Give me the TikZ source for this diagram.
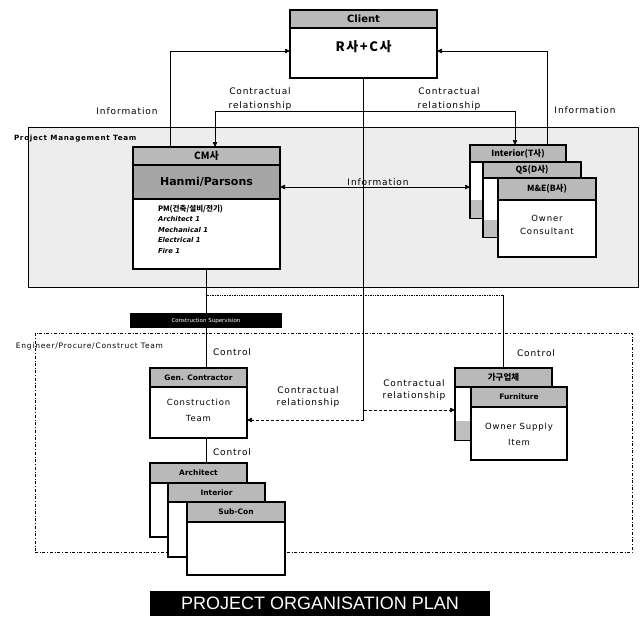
\documentclass[tikz,border=0pt]{standalone}
\usepackage{fontspec}
\setmainfont{DejaVu Sans}
\newfontfamily\kr{Noto Sans CJK KR}
\newfontfamily\krw[LetterSpace=12]{Noto Sans CJK KR}
\newfontfamily\lblfont[LetterSpace=10]{DejaVu Sans}
\newfontfamily\banfont{Liberation Sans}
\usetikzlibrary{arrows.meta,calc}
\begin{document}
\begin{tikzpicture}[x=1pt,y=-1pt,
  every node/.style={inner sep=0pt, outer sep=0pt},
  frame/.style={draw, line width=1.1pt, fill=white, anchor=north west},
  hdr/.style={draw, line width=1.1pt, fill=gray!55, anchor=north west, font=\bfseries\fontsize{7.5}{8}\selectfont},
  krhdr/.style={hdr, font=\kr\bfseries\fontsize{8.5}{9}\selectfont},
  lbl/.style={font=\lblfont\fontsize{9}{14}\selectfont, align=center},
  conn/.style={line width=0.7pt},
  arr/.style={conn, -{Triangle[length=5pt,width=4.5pt]}},
  darr/.style={conn, {Triangle[length=5pt,width=4.5pt]}-{Triangle[length=5pt,width=4.5pt]}},
]
\useasboundingbox (0,0) rectangle (642,621);
\fill[white] (0,0) rectangle (642,621);

% team frames
\node[draw, fill=gray!14, line width=0.8pt, anchor=north west, minimum width=610pt, minimum height=160pt] (pmt) at (28,127) {};
\node[anchor=west, font=\lblfont\bfseries\fontsize{7.2}{8}\selectfont] (pmtl) at (14,139) {Project Management Team};
\node[draw, dash dot, line width=0.8pt, anchor=north west, minimum width=597pt, minimum height=219pt] (epc) at (35,333) {};
\node[anchor=west, font=\lblfont\fontsize{7.5}{8}\selectfont] (epcl) at (16,346) {Engineer/Procure/Construct Team};

% client
\node[frame, minimum width=147pt, minimum height=68pt] (client) at (290,10) {};
\node[hdr, minimum width=147pt, minimum height=18pt, font=\bfseries\fontsize{10}{11}\selectfont] (clienth) at (290,10) {Client};
\node[font=\krw\bfseries\fontsize{13}{14}\selectfont] (clientt) at (363.5,47) {R사+C사};

% CM box
\node[frame, minimum width=147pt, minimum height=122pt] (cm) at (133,147) {};
\node[krhdr, minimum width=147pt, minimum height=18pt, font=\kr\bfseries\fontsize{10}{11}\selectfont] (cmh1) at (133,147) {CM사};
\node[hdr, fill=gray!70, minimum width=147pt, minimum height=34pt, font=\bfseries\fontsize{11}{12}\selectfont] (cmh2) at (133,165) {Hanmi/Parsons};
\node[anchor=north west, align=left, font=\bfseries\itshape\fontsize{6.8}{10.5}\selectfont] (cmt) at (158,205) {{\kr\bfseries\fontsize{7.5}{10.5}\selectfont PM(건축/설비/전기)}\\Architect 1\\Mechanical 1\\Electrical 1\\Fire 1};

% owner consultant stack
\node[frame, minimum width=96pt, minimum height=73pt] (inta) at (470,145) {};
\fill[gray!50] (471,200) rectangle (565,217.5);
\node[krhdr, minimum width=96pt, minimum height=17pt] (intah) at (470,145) {Interior(T사)};
\node[frame, minimum width=98pt, minimum height=75pt] (qs) at (483,162) {};
\fill[gray!50] (484,220) rectangle (580,236.5);
\node[krhdr, minimum width=98pt, minimum height=16pt] (qsh) at (483,162) {QS(D사)};
\node[frame, minimum width=98pt, minimum height=79pt] (me) at (498,178) {};
\node[krhdr, minimum width=98pt, minimum height=22pt] (meh) at (498,178) {M\&E(B사)};
\node[lbl, font=\lblfont\fontsize{8.5}{13}\selectfont] (met) at (547,225) {Owner\\Consultant};

% construction supervision bar
\coordinate (dl) at (0,295);
\draw[conn] (cm.south) -- (cm.south |- 0,368);
\node[fill=black, text=white, anchor=north west, minimum width=152pt, minimum height=15pt, font=\fontsize{5.5}{6}\selectfont] (csbar) at (130,313) {Construction Supervision};

% general contractor
\node[frame, minimum width=97pt, minimum height=70pt] (gc) at (150,368) {};
\node[hdr, minimum width=97pt, minimum height=19pt] (gch) at (150,368) {Gen. Contractor};
\node[lbl, font=\lblfont\fontsize{8.5}{16}\selectfont] (gct) at (198.5,410) {Construction\\Team};

% furniture stack
\node[frame, minimum width=97pt, minimum height=72pt] (furnb) at (455,368) {};
\fill[gray!50] (456,421) rectangle (551.5,439.5);
\node[krhdr, minimum width=97pt, minimum height=19pt] (furnbh) at (455,368) {가구업체};
\node[frame, minimum width=96pt, minimum height=73pt] (furn) at (471,387) {};
\node[hdr, minimum width=96pt, minimum height=20pt] (furnh) at (471,387) {Furniture};
\node[lbl, font=\lblfont\fontsize{8.5}{16}\selectfont] (furnt) at (519,434) {Owner Supply\\Item};

% sub-contractor stack
\node[frame, minimum width=97pt, minimum height=74pt] (s1) at (150,463) {};
\node[hdr, minimum width=97pt, minimum height=20pt] (s1h) at (150,463) {Architect};
\node[frame, minimum width=97pt, minimum height=74pt] (s2) at (168,483) {};
\node[hdr, minimum width=97pt, minimum height=19pt] (s2h) at (168,483) {Interior};
\node[frame, minimum width=98pt, minimum height=73pt] (s3) at (187,502) {};
\node[hdr, minimum width=98pt, minimum height=20pt] (s3h) at (187,502) {Sub-Con};

% connectors
\draw[arr] ([xshift=37pt]cm.north west) |- ([yshift=-7pt]client.west);
\draw[arr] ([xshift=-19pt]inta.north east) |- ([yshift=-7pt]client.east);
\coordinate (ct) at (0,111);
\draw[darr] ([xshift=82pt]cm.north west) -- ([xshift=82pt]cm.north west |- ct) -| ([xshift=45pt]inta.north west);
\draw[darr] ([yshift=-5pt]cmh2.east) -- ([yshift=-5pt]cmh2.east -| inta.west);
\coordinate (j1) at (0,410);
\coordinate (j2) at (0,420);
\draw[conn] (client.south) -- (client.south |- j2);
\draw[arr, densely dashed] (client.south |- j2) -- (gc.east |- j2);
\draw[arr, densely dashed] (client.south |- j1) -- (furnb.west |- j1);
\draw[conn, densely dotted] (cm.south |- dl) -- (furnb.north |- dl);
\draw[conn] (furnb.north |- dl) -- (furnb.north);
\draw[conn] (cm.south |- gc.south) -- (cm.south |- s1.north);

% labels
\node[lbl] (li1) at (127,111) {Information};
\node[lbl] (li2) at (585,110) {Information};
\node[lbl] (lc1) at (260,99) {Contractual\\relationship};
\node[lbl] (lc2) at (449,99) {Contractual\\relationship};
\node[lbl] (li3) at (378,182) {Information};
\node[lbl] (lco1) at (232,352) {Control};
\node[lbl] (lco2) at (536,353) {Control};
\node[lbl] (lco3) at (232,452) {Control};
\node[lbl, font=\lblfont\fontsize{9}{12}\selectfont] (lc3) at (308,397) {Contractual\\relationship};
\node[lbl, font=\lblfont\fontsize{9}{12}\selectfont] (lc4) at (414,390) {Contractual\\relationship};

% banner
\node[fill=black, text=white, anchor=north west, minimum width=340pt, minimum height=25pt, font=\banfont\fontsize{18}{19}\selectfont] (banner) at (150,591) {PROJECT ORGANISATION PLAN};
\end{tikzpicture}
\end{document}
